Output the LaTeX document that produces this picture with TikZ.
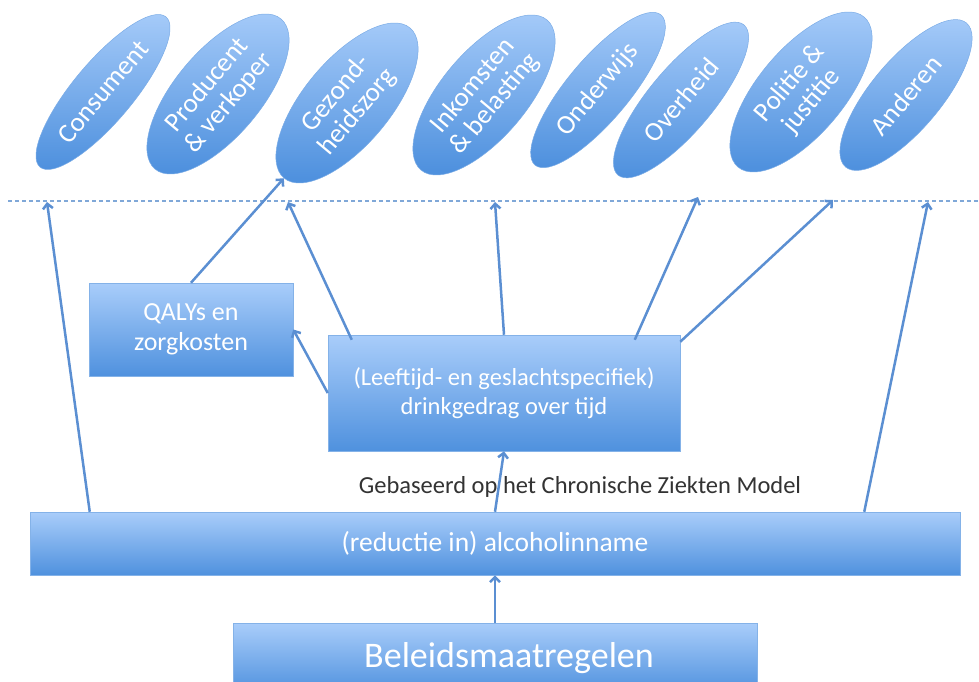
\documentclass[tikz,border=0pt]{standalone}
\usepackage{fontspec}
\setmainfont{Carlito}
\usetikzlibrary{shapes.geometric,arrows.meta,calc}
\definecolor{boxtop}{HTML}{A9CDFA}
\definecolor{boxbot}{HTML}{4F91DE}
\definecolor{arr}{HTML}{5B8FD2}
\definecolor{dashc}{HTML}{80A8D8}
\definecolor{note}{HTML}{333333}
\begin{document}
\begin{tikzpicture}[x=1pt,y=-1pt,
  sector/.style={ellipse, rotate=50, top color=boxtop, bottom color=boxbot,
    draw=boxbot!75!white, line width=0.5pt, text=white,
    font=\fontsize{27}{28}\selectfont, align=center, inner sep=0pt},
  thin/.style={sector, minimum width=196pt, minimum height=60pt},
  wide/.style={sector, minimum width=196pt, minimum height=86pt},
  box/.style={rectangle, top color=boxtop, bottom color=boxbot,
    draw=boxbot!70!white, line width=0.5pt, text=white, align=center, inner sep=0pt},
  conn/.style={draw=arr, line width=2.5pt, -{Straight Barb[length=5pt,width=10pt]}}]
\useasboundingbox (0,0) rectangle (979,681);

% sectors
\node[thin] (cons) at (103,92) {Consument};
\node[wide] (prod) at (218,94) {Producent\\\& verkoper};
\node[wide] (gez) at (347,103) {Gezond-\\heidszorg};
\node[wide] (ink) at (484,95) {Inkomsten\\\& belasting};
\node[thin, minimum height=62pt] (ond) at (598,90) {Onderwijs};
\node[thin, minimum height=64pt] (ovh) at (681,100) {Overheid};
\node[wide] (pol) at (801,92) {Politie \&\\justitie};
\node[thin, minimum width=188pt, minimum height=70pt] (and) at (906,95) {Anderen};

% dashed line
\coordinate (dl) at (8,201);
\coordinate (dr) at (979,201);
\draw[dashc, line width=1.3pt, dash pattern=on 4pt off 3pt] (dl) -- (dr);

% boxes
\node[box, minimum width=204pt, minimum height=93pt, font=\fontsize{26}{30}\selectfont]
  (qaly) at (191,329.5) {QALYs en\\zorgkosten};
\node[box, minimum width=352pt, minimum height=116pt, font=\fontsize{24.5}{29}\selectfont]
  (mid) at (504,393) {(Leeftijd- en geslachtspecifiek)\\drinkgedrag over tijd};
\node[box, minimum width=930pt, minimum height=63pt, font=\fontsize{27.5}{30}\selectfont]
  (bot) at (495,543.5) {(reductie in) alcoholinname};
\node[box, minimum width=524pt, minimum height=70pt] (bel) at (495,658) {};
\node[text=white, font=\fontsize{36}{40}\selectfont] (beltxt) at (509,658) {Beleidsmaatregelen};

\node[text=note, font=\fontsize{24.5}{28}\selectfont] (gebas) at (580,487)
  {Gebaseerd op het Chronische Ziekten Model};

% arrow end points on the dashed line
\coordinate (e1) at (47,202);
\coordinate (e3) at (288,202);
\coordinate (e5) at (495,202);
\coordinate (e6) at (698,197);
\coordinate (e7) at (833,200);
\coordinate (e8) at (928,202);

% connectors
\draw[conn] ([xshift=60pt]bot.north west) -- (e1);
\draw[conn] (qaly.north) -- (gez.west);
\draw[conn] ([xshift=24pt,yshift=-5pt]mid.north west) -- (e3);
\draw[conn] (mid.west) -- (qaly.east);
\draw[conn] (mid.north) -- (e5);
\draw[conn] ([xshift=307pt,yshift=-5pt]mid.north west) -- (e6);
\draw[conn] ([yshift=-7pt]mid.north east) -- (e7);
\draw[conn] ([xshift=-96pt]bot.north east) -- (e8);
\draw[conn] (bot.north) -- (mid.south);
\draw[conn] (bel.north) -- (bot.south);
\end{tikzpicture}
\end{document}
